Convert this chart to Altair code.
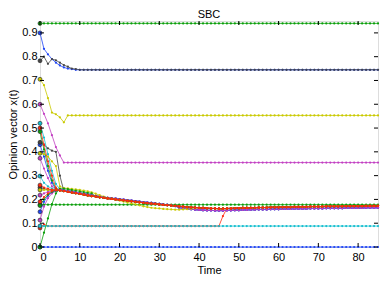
import altair as alt
import pandas as pd

time = list(range(86))

chart_title = ["SBC"]
x_ticks = [0, 10, 20, 30, 40, 50, 60, 70, 80]
y_ticks = [0, 0.1, 0.2, 0.3, 0.4, 0.5, 0.6, 0.7, 0.8, 0.9]

# shared cluster trajectories (t = 5..85)
tail_hi = [0.238, 0.235, 0.232, 0.229, 0.226, 0.223, 0.220, 0.217, 0.214, 0.212,
           0.209, 0.207, 0.204, 0.202, 0.200, 0.198, 0.196, 0.194, 0.192, 0.190,
           0.188, 0.186, 0.184, 0.182, 0.181, 0.179, 0.177, 0.176, 0.174, 0.173,
           0.171, 0.170, 0.168, 0.167, 0.166, 0.165, 0.164, 0.163, 0.162, 0.162,
           0.161, 0.161, 0.162, 0.162, 0.163, 0.163, 0.164, 0.164, 0.165, 0.165,
           0.166, 0.166, 0.166, 0.167, 0.167, 0.167, 0.168, 0.168, 0.168, 0.169,
           0.169, 0.169, 0.169, 0.170, 0.170, 0.170, 0.170, 0.171, 0.171, 0.171,
           0.171, 0.171, 0.172, 0.172, 0.172, 0.172, 0.172, 0.173, 0.173, 0.173,
           0.173]
tail_lo = [0.242, 0.239, 0.236, 0.233, 0.230, 0.227, 0.224, 0.221, 0.218, 0.215,
           0.212, 0.210, 0.207, 0.205, 0.203, 0.201, 0.199, 0.197, 0.195, 0.193,
           0.191, 0.189, 0.187, 0.185, 0.183, 0.181, 0.179, 0.177, 0.175, 0.172,
           0.166, 0.163, 0.161, 0.159, 0.157, 0.156, 0.155, 0.154, 0.154, 0.153,
           0.153, 0.153, 0.154, 0.154, 0.155, 0.155, 0.156, 0.156, 0.157, 0.157,
           0.158, 0.158, 0.158, 0.159, 0.159, 0.159, 0.160, 0.160, 0.160, 0.161,
           0.161, 0.161, 0.161, 0.162, 0.162, 0.162, 0.162, 0.163, 0.163, 0.163,
           0.163, 0.163, 0.164, 0.164, 0.164, 0.164, 0.164, 0.165, 0.165, 0.165,
           0.165]
# yellow line that runs above then below the cluster (t = 5..40)
yellow_dip = [0.255, 0.248, 0.246, 0.244, 0.242, 0.240, 0.237, 0.234, 0.230, 0.224,
              0.218, 0.212, 0.207, 0.203, 0.199, 0.195, 0.191, 0.187, 0.183, 0.179,
              0.175, 0.171, 0.168, 0.165, 0.163, 0.162, 0.160, 0.159, 0.158, 0.157,
              0.157, 0.158, 0.159, 0.161, 0.163, 0.165]

blue_c = "#1f45f5"
green_c = "#0a9e0a"
red_c = "#ff2a10"
cyan_c = "#17bfcf"
magenta_c = "#c23fc2"
yellow_c = "#c9c900"
black_c = "#454545"

series_values = [
    [0.94] * 86,
    [0.90, 0.833, 0.81, 0.79, 0.775, 0.763, 0.755, 0.75, 0.748] + [0.745] * 77,
    [0.783, 0.80, 0.77, 0.79, 0.785, 0.775, 0.765, 0.758, 0.75, 0.748] + [0.745] * 76,
    [0.705, 0.68, 0.626, 0.565, 0.558, 0.545, 0.524] + [0.553] * 79,
    [0.60, 0.56, 0.52, 0.47, 0.42, 0.385] + [0.355] * 80,
    [0.178] * 86,
    [0.08, 0.095] + [0.088] * 44 + [0.13] + tail_hi[42:],
    [0.088] * 86,
    [0.0] * 86,
    [0.52, 0.46, 0.39, 0.32, 0.265] + tail_lo,
    [0.43, 0.38, 0.32, 0.27, 0.24] + tail_lo,
    [0.373, 0.33, 0.29, 0.255, 0.24] + tail_lo,
    [0.298, 0.27, 0.255, 0.245, 0.24] + tail_lo,
    [0.218, 0.225, 0.232, 0.237, 0.24] + tail_lo,
    [0.148, 0.19, 0.215, 0.23, 0.237] + tail_lo,
    [0.113, 0.17, 0.205, 0.225, 0.235] + tail_lo,
    [0.394, 0.39, 0.38, 0.36, 0.34] + yellow_dip + tail_hi[36:],
    [0.0, 0.06, 0.12, 0.18, 0.225, 0.245, 0.245, 0.243, 0.240, 0.237, 0.234, 0.231,
     0.228, 0.225] + tail_hi[9:],
    [0.485, 0.41, 0.34, 0.28, 0.245] + tail_hi,
    [0.44, 0.43, 0.415, 0.405, 0.40, 0.30] + tail_hi[1:],
    [0.25, 0.245, 0.24, 0.24, 0.238] + tail_hi,
    [0.24, 0.24, 0.24, 0.24, 0.24] + tail_hi,
    [0.174, 0.20, 0.22, 0.232, 0.238] + tail_hi,
    [0.50, 0.43, 0.36, 0.30, 0.25] + tail_hi,
    [0.26, 0.25, 0.245, 0.24, 0.24] + tail_hi,
    [0.19, 0.21, 0.225, 0.235, 0.24] + tail_hi,
]
series_colors = [
    green_c, blue_c, black_c, yellow_c, magenta_c, green_c, red_c, cyan_c, blue_c,
    cyan_c, blue_c, magenta_c, cyan_c, magenta_c, blue_c, magenta_c,
    yellow_c, green_c, green_c, black_c, black_c, yellow_c, green_c,
    red_c, red_c, red_c,
]

ids = [f"s{i:02d}" for i in range(len(series_values))]
rows = []
for sid, vals in zip(ids, series_values):
    for t, v in zip(time, vals):
        rows.append({"s": sid, "t": t, "v": v})
df = pd.DataFrame(rows)

FONT = "Liberation Sans"
xs = alt.Scale(domain=[0, 85], nice=False, zero=False)
ys = alt.Scale(domain=[0, 0.95], nice=False, zero=False)
x_axis = alt.Axis(values=x_ticks, ticks=False, domain=False, grid=False,
                  labelFont=FONT, labelFontSize=11, labelColor="black",
                  labelPadding=4, title="Time", titleFont=FONT, titleFontSize=11,
                  titleFontWeight="normal", titleColor="black", titlePadding=2)
y_axis = alt.Axis(values=y_ticks, ticks=False, domain=False, grid=False,
                  labelFont=FONT, labelFontSize=11, labelColor="black",
                  labelPadding=3,
                  labelExpr="datum.value == 0 ? '0' : format(datum.value, '.1f')",
                  title="Opinion vector x(t)", titleFont=FONT, titleFontSize=11,
                  titleFontWeight="normal", titleColor="black", titlePadding=3)
X = alt.X("t:Q", scale=xs, axis=x_axis)
Y = alt.Y("v:Q", scale=ys, axis=y_axis)
col = alt.Color("s:N", scale=alt.Scale(domain=ids, range=series_colors), legend=None)

base = alt.Chart(df)
lines = base.mark_line(strokeWidth=0.8).encode(x=X, y=Y, color=col, order="t:Q")
dots = base.mark_circle(size=5, opacity=1).encode(x=X, y=Y, color=col)
starts = base.transform_filter("datum.t == 0").mark_point(
    filled=True, size=16, strokeWidth=0.6, opacity=1, shape="circle"
).encode(
    x=X, y=Y,
    fill=alt.Fill("s:N", scale=alt.Scale(domain=ids, range=series_colors), legend=None),
    stroke=alt.value("#222222"),
)

xt_df = pd.DataFrame({"t": x_ticks})
yt_df = pd.DataFrame({"v": y_ticks})
tb = alt.Chart(xt_df).mark_rule(color="black", strokeWidth=1).encode(
    x=X, y=alt.value(226), y2=alt.value(222))
tt = alt.Chart(xt_df).mark_rule(color="black", strokeWidth=1).encode(
    x=X, y=alt.value(0), y2=alt.value(4))
tl = alt.Chart(yt_df).mark_rule(color="black", strokeWidth=1).encode(
    y=Y, x=alt.value(0), x2=alt.value(4))
tr = alt.Chart(yt_df).mark_rule(color="black", strokeWidth=1).encode(
    y=Y, x=alt.value(338), x2=alt.value(334))

title_txt = alt.Chart(pd.DataFrame({"label": chart_title})).mark_text(
    font=FONT, fontSize=11, color="black", align="center", baseline="alphabetic"
).encode(text="label:N", x=alt.value(169), y=alt.value(-3.5))

chart = alt.layer(lines, dots, starts, tb, tt, tl, tr, title_txt).properties(
    width=338, height=226,
    autosize=alt.AutoSizeParams(type="none"),
    padding={"left": 32, "top": 13, "right": 4, "bottom": 28},
).configure_view(stroke="black", strokeWidth=1, clip=False).configure(background="white")

chart.save("out.html", embed_options={"renderer": "svg", "actions": False})
